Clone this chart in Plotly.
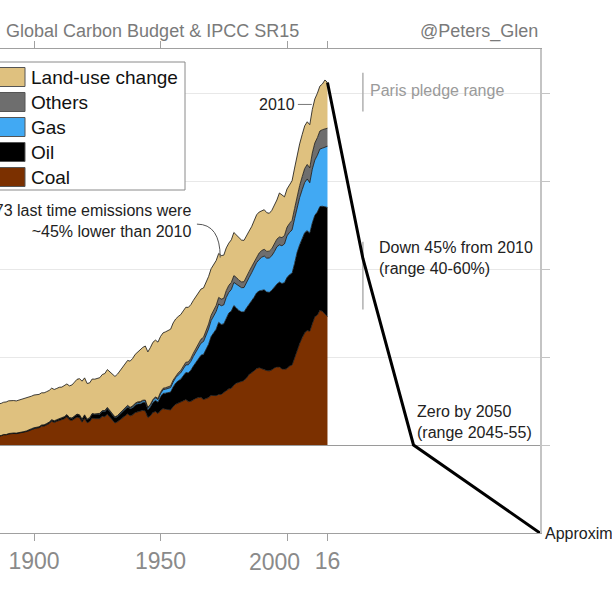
import plotly.graph_objects as go

# ---------------- data (GtCO2 per year) ----------------
years = list(range(1885, 2017))

coal = [0.99, 1.00, 1.05, 1.16, 1.15, 1.25, 1.30, 1.31, 1.29, 1.33, 1.41, 1.45, 1.52, 1.61, 1.76,
        1.86, 1.92, 1.96, 2.14, 2.15, 2.29, 2.44, 2.70, 2.56, 2.69,
        2.80, 2.84, 2.99, 3.20, 2.86, 2.80, 3.00, 3.18, 3.10, 2.60,
        3.04, 2.53, 2.66, 3.06, 3.00, 3.02, 3.00, 3.26, 3.22, 3.50,
        3.19, 2.82, 2.51, 2.64, 2.88, 3.02, 3.33, 3.54, 3.32, 3.43,
        3.68, 3.77, 3.83, 3.94, 3.87, 3.13, 3.32, 3.70, 3.81, 3.57,
        3.92, 4.14, 4.07, 4.05, 3.99, 4.38, 4.63, 4.76, 4.85, 5.02,
        5.17, 4.93, 4.96, 5.17, 5.31, 5.39, 5.42, 5.17, 5.24, 5.39,
        5.64, 5.61, 5.61, 5.75, 5.75, 5.97, 6.16, 6.38, 6.45, 6.82,
        7.03, 7.11, 7.25, 7.33, 7.62, 8.02, 8.21, 8.46, 8.68, 8.79,
        8.72, 8.57, 8.46, 8.43, 8.54, 8.76, 8.87, 8.87, 8.65, 8.61,
        8.68, 8.98, 9.09, 9.97, 10.81, 11.54, 12.20, 12.75, 13.01, 12.93,
        13.78, 14.58, 14.77, 15.30, 15.20, 14.85, 14.60]

oil = [0.02, 0.02, 0.02, 0.03, 0.03, 0.03, 0.04, 0.04, 0.04, 0.04, 0.05, 0.05, 0.06, 0.06, 0.07,
       0.08, 0.08, 0.09, 0.10, 0.11, 0.11, 0.12, 0.14, 0.15, 0.15,
       0.16, 0.17, 0.18, 0.20, 0.21, 0.22, 0.24, 0.26, 0.27, 0.28,
       0.32, 0.34, 0.38, 0.43, 0.44, 0.46, 0.48, 0.52, 0.56, 0.61,
       0.60, 0.57, 0.55, 0.58, 0.61, 0.65, 0.70, 0.78, 0.77, 0.81,
       0.84, 0.88, 0.84, 0.88, 0.95, 0.88, 1.00, 1.12, 1.27, 1.30,
       1.55, 1.72, 1.82, 1.93, 2.02, 2.22, 2.41, 2.53, 2.63, 2.84,
       3.07, 3.26, 3.54, 3.80, 4.11, 4.40, 4.78, 5.12, 5.59, 6.06,
       6.68, 7.07, 7.55, 8.19, 7.95, 7.79, 8.33, 8.61, 8.77, 9.03,
       8.55, 8.16, 7.88, 7.78, 7.95, 7.93, 8.22, 8.33, 8.61, 8.71,
       8.85, 9.06, 8.92, 8.92, 9.04, 9.18, 9.41, 9.64, 9.70, 9.84,
       10.35, 10.38, 10.42, 10.66, 11.08, 11.20, 11.30, 11.38, 11.35, 11.13,
       11.45, 11.52, 11.70, 11.80, 11.93, 12.20, 12.40]

gas = [0.01, 0.01, 0.01, 0.01, 0.01, 0.01, 0.01, 0.01, 0.01, 0.01, 0.01, 0.01, 0.01, 0.01, 0.01,
       0.01, 0.01, 0.01, 0.02, 0.02, 0.02, 0.02, 0.02, 0.02, 0.02,
       0.03, 0.03, 0.03, 0.03, 0.03, 0.03, 0.03, 0.04, 0.04, 0.04,
       0.04, 0.04, 0.04, 0.05, 0.05, 0.06, 0.07, 0.08, 0.09, 0.10,
       0.09, 0.08, 0.08, 0.08, 0.09, 0.09, 0.10, 0.11, 0.11, 0.12,
       0.15, 0.16, 0.17, 0.18, 0.20, 0.20, 0.21, 0.24, 0.27, 0.29,
       0.36, 0.42, 0.45, 0.48, 0.51, 0.55, 0.60, 0.66, 0.72, 0.79,
       0.86, 0.93, 1.01, 1.10, 1.19, 1.28, 1.37, 1.47, 1.59, 1.73,
       1.81, 1.92, 2.01, 2.08, 2.12, 2.16, 2.28, 2.35, 2.45, 2.62,
       2.71, 2.75, 2.75, 2.78, 2.97, 3.07, 3.13, 3.29, 3.44, 3.57,
       3.77, 3.84, 3.85, 3.90, 3.93, 4.03, 4.24, 4.23, 4.29, 4.40,
       4.73, 4.80, 4.93, 5.08, 5.24, 5.38, 5.51, 5.71, 5.87, 5.74,
       6.12, 6.27, 6.45, 6.53, 6.60, 6.76, 6.95]

others = [0.00, 0.00, 0.00, 0.00, 0.00, 0.01, 0.01, 0.01, 0.01, 0.01, 0.01, 0.01, 0.01, 0.01, 0.01,
          0.01, 0.01, 0.01, 0.01, 0.01, 0.02, 0.02, 0.02, 0.02, 0.02,
          0.02, 0.02, 0.02, 0.03, 0.02, 0.02, 0.02, 0.03, 0.03, 0.03,
          0.03, 0.03, 0.03, 0.04, 0.04, 0.04, 0.05, 0.05, 0.05, 0.06,
          0.06, 0.05, 0.05, 0.05, 0.06, 0.06, 0.07, 0.08, 0.08, 0.08,
          0.08, 0.09, 0.09, 0.09, 0.08, 0.07, 0.09, 0.11, 0.12, 0.13,
          0.15, 0.16, 0.17, 0.18, 0.19, 0.22, 0.23, 0.25, 0.27, 0.29,
          0.30, 0.32, 0.34, 0.37, 0.40, 0.42, 0.45, 0.48, 0.52, 0.56,
          0.60, 0.64, 0.69, 0.75, 0.76, 0.75, 0.78, 0.80, 0.80, 0.78,
          0.75, 0.70, 0.66, 0.66, 0.67, 0.68, 0.69, 0.71, 0.73, 0.75,
          0.76, 0.77, 0.77, 0.78, 0.80, 0.85, 0.87, 0.90, 0.93, 0.95,
          0.98, 1.02, 1.08, 1.16, 1.25, 1.35, 1.47, 1.58, 1.65, 1.70,
          1.83, 1.95, 2.00, 2.05, 2.10, 2.07, 2.05]

land_use = [3.60, 3.62, 3.65, 3.66, 3.70, 3.72, 3.70, 3.68, 3.66, 3.70, 3.72, 3.75, 3.74, 3.72, 3.70,
            3.72, 3.70, 3.68, 3.66, 3.64, 3.62, 3.60, 3.58, 3.56, 3.55,
            3.55, 3.52, 3.50, 3.48, 3.60, 3.75, 3.85, 3.95, 4.10, 4.30,
            4.20, 4.05, 3.95, 3.92, 3.95, 4.00, 4.05, 4.10, 4.20, 4.30,
            4.40, 4.50, 4.60, 4.70, 4.80, 4.90, 5.00, 5.10, 5.25, 5.40,
            5.55, 5.70, 5.85, 6.00, 6.15, 6.30, 6.45, 6.50, 6.45, 6.40,
            6.35, 6.30, 6.35, 6.40, 6.45, 6.50, 6.45, 6.40, 6.35, 6.30,
            6.25, 6.20, 6.10, 6.00, 5.90, 5.80, 5.70, 5.60, 5.50, 5.40,
            5.30, 5.20, 5.10, 5.00, 4.95, 4.90, 4.85, 4.80, 4.85, 4.90,
            4.85, 4.80, 4.75, 4.70, 4.65, 4.60, 4.55, 4.60, 4.70, 4.65,
            4.55, 4.50, 4.40, 4.30, 4.35, 4.40, 4.45, 5.00, 4.80, 4.40,
            4.35, 4.40, 4.50, 4.60, 4.70, 4.75, 4.80, 4.85, 4.85, 4.90,
            4.95, 5.00, 5.05, 5.10, 5.20, 5.60, 5.20]

# 1.5C pathway (IPCC SR15, stylised)
proj_years = [2016, 2030, 2050, 2100]
proj_values = [41.2, 21.2, 0.0, -10.0]

# ranges in 2030
range_year = 2030
paris_range = [37.9, 42.3]
sr15_range = [15.4, 23.1]

x_ticks = [1900, 1950, 2000, 2016]
x_ticktext = ["1900", "1950", "", "16"]
y_ticks = [0, 10, 20, 30, 40]

series = [
    ("Coal", coal, "#7b3000"),
    ("Oil", oil, "#000000"),
    ("Gas", gas, "#41a9f3"),
    ("Others", others, "#6e6e6e"),
    ("Land-use change", land_use, "#dfc17f"),
]

# ---------------- layout geometry ----------------
W, H = 612, 613
ML, MR, MT, MB = 0, 72, 49, 80
PW, PH = W - ML - MR, H - MT - MB


def px(xp):
    return (xp - ML) / PW


def py(yp):
    return (H - MB - yp) / PH


FONT = "Liberation Sans, Arial, Helvetica, sans-serif"

fig = go.Figure()

for name, vals, col in series:
    fig.add_trace(go.Scatter(
        x=years, y=vals, name=name, mode="lines", stackgroup="one",
        line=dict(color="#111111", width=0.8), fillcolor=col,
        hoverinfo="x+y+name", showlegend=False))

# range bars
for rng in (paris_range, sr15_range):
    fig.add_trace(go.Scatter(x=[range_year, range_year], y=rng, mode="lines",
                             line=dict(color="#b0b0b0", width=1.5),
                             showlegend=False, hoverinfo="skip"))

# pathway line
fig.add_trace(go.Scatter(x=proj_years, y=proj_values, mode="lines",
                         line=dict(color="#000000", width=3),
                         showlegend=False, hoverinfo="skip"))

shapes = []
annotations = []

# legend (drawn manually to get rectangular swatches)
shapes.append(dict(type="rect", xref="paper", yref="paper",
                   x0=px(-3), x1=px(185), y0=py(190), y1=py(62),
                   line=dict(color="#8a8a8a", width=1), fillcolor="white", layer="above"))
legend_items = list(reversed(series))
for i, (name, vals, col) in enumerate(legend_items):
    cy = 77 + 25 * i
    shapes.append(dict(type="rect", xref="paper", yref="paper",
                       x0=px(-5), x1=px(25), y0=py(cy + 9.5), y1=py(cy - 9.5),
                       line=dict(color="#555555", width=1), fillcolor=col, layer="above"))
    annotations.append(dict(xref="paper", yref="paper", x=px(29), y=py(cy),
                            xanchor="left", yanchor="middle", showarrow=False,
                            text=name, font=dict(size=19, color="#111111", family=FONT)))

# leader for 1973 annotation
shapes.append(dict(type="path", xref="x", yref="y",
                   path="M 1964.4,25.1 Q 1973.6,25.1 1973.6,21.3",
                   line=dict(color="#555555", width=1)))
# leader for 2010 label
shapes.append(dict(type="line", xref="x", yref="y", x0=2004.3, x1=2009.8, y0=38.7, y1=38.7,
                   line=dict(color="#777777", width=1)))

txt = dict(size=16, color="#222222", family=FONT)
annotations += [
    dict(xref="paper", yref="paper", x=px(301), y=py(31.5), xanchor="right", yanchor="middle",
         showarrow=False, text="Data: Global Carbon Budget & IPCC SR15",
         font=dict(size=18, color="#7a7a7a", family=FONT)),
    dict(xref="paper", yref="paper", x=px(540), y=py(31.5), xanchor="right", yanchor="middle",
         showarrow=False, text="@Peters_Glen",
         font=dict(size=18, color="#7a7a7a", family=FONT)),
    dict(xref="x", yref="y", x=2032.0, y=40.3, xanchor="left", yanchor="middle",
         showarrow=False, text="Paris pledge range",
         font=dict(size=16, color="#9a9a9a", family=FONT)),
    dict(xref="x", yref="y", x=2035.6, y=21.3, xanchor="left", yanchor="middle",
         showarrow=False, align="left", text="Down 45% from 2010<br>(range 40-60%)", font=txt),
    dict(xref="x", yref="y", x=2050.5, y=2.6, xanchor="left", yanchor="middle",
         showarrow=False, align="left", text="Zero by 2050<br>(range 2045-55)", font=txt),
    dict(xref="x", yref="y", x=2003.8, y=38.7, xanchor="right", yanchor="middle",
         showarrow=False, text="2010", font=txt),
    dict(xref="x", yref="y", x=1962.8, y=25.4, xanchor="right", yanchor="middle",
         showarrow=False, align="right",
         text="1973 last time emissions were<br>~45% lower than 2010", font=txt),
    dict(xref="x", yref="y", x=2100, y=-10, xshift=3, xanchor="left", yanchor="middle",
         showarrow=False, text="Approximately net zero CO2", font=txt),
    dict(xref="x", yref="paper", x=2000, y=py(562.0), xshift=-13, xanchor="center",
         yanchor="middle", showarrow=False, text="2000",
         font=dict(size=23, color="#8a8a8a", family=FONT)),
]

fig.update_layout(
    width=W, height=H,
    margin=dict(l=ML, r=MR, t=MT, b=MB, pad=0),
    paper_bgcolor="white", plot_bgcolor="white",
    showlegend=False,
    shapes=shapes, annotations=annotations,
    font=dict(family=FONT),
    xaxis=dict(range=[1886.56, 2100], tickvals=x_ticks, ticktext=x_ticktext,
               showgrid=False, zeroline=False, showline=True, linecolor="#a0a0a0",
               linewidth=1, mirror="ticks", ticks="outside", ticklen=7,
               tickcolor="#a0a0a0", tickfont=dict(size=23, color="#8a8a8a", family=FONT)),
    yaxis=dict(range=[-10, 45], side="right", tickvals=y_ticks, showticklabels=False,
               showgrid=True, gridcolor="#e8e8e8", gridwidth=1,
               zeroline=True, zerolinecolor="#9a9a9a", zerolinewidth=1,
               showline=True, linecolor="#c4c4c4", linewidth=1.5,
               ticks="outside", ticklen=8, tickcolor="#c4c4c4"),
)

fig.write_html("out.html", config={"displayModeBar": False},
               post_script="document.body.style.margin='0';document.body.style.overflow='hidden';")
